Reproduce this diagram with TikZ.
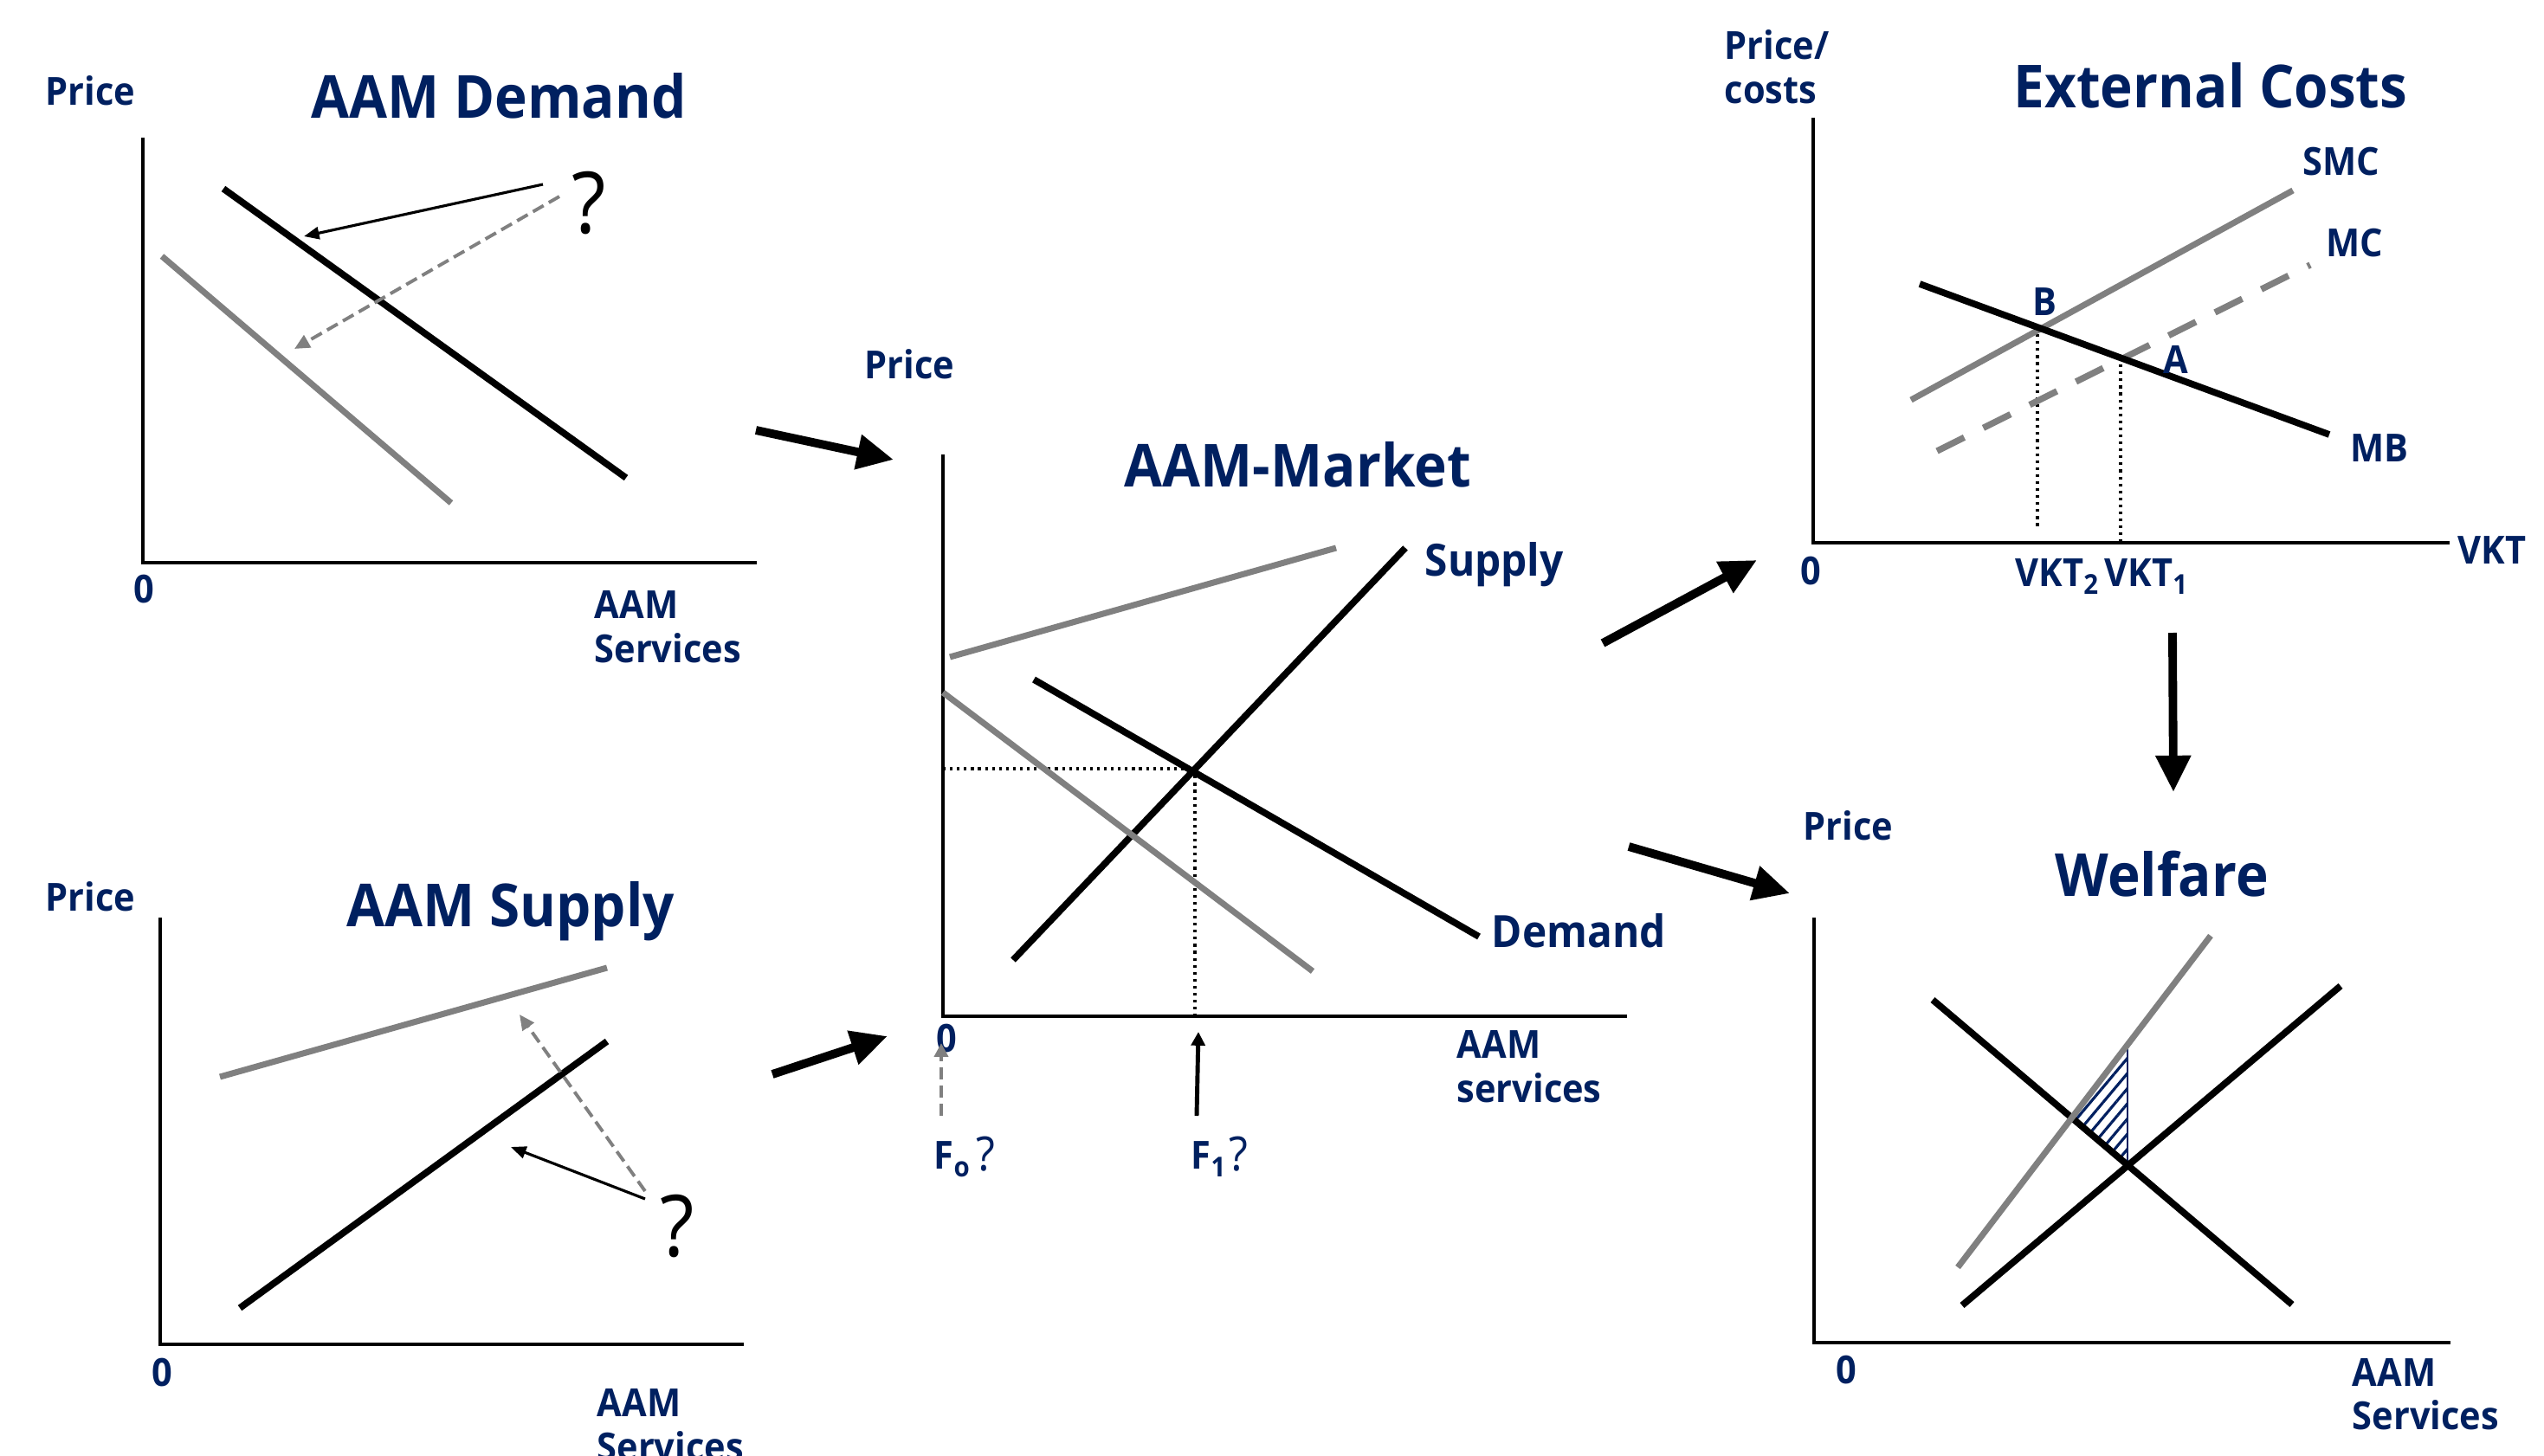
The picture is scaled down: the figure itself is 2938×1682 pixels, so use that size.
\documentclass[tikz,border=0pt]{standalone}
\usepackage{fontspec}
\setmainfont{Open Sans}[FakeStretch=0.93]
\usetikzlibrary{arrows.meta,patterns.meta}
\definecolor{navy}{HTML}{002060}
\definecolor{curvegray}{HTML}{808080}
\newcommand{\lsub}[1]{\raisebox{-2.8pt}{\fontsize{9}{9}\selectfont #1}}
\tikzset{
  lab/.style={font=\fontsize{12.7}{15}\selectfont\bfseries, text=navy, inner sep=0pt, anchor=base west},
  biglab/.style={lab, font=\fontsize{14.6}{17}\selectfont\bfseries},
  ttl/.style={font=\fontsize{19.5}{23}\selectfont\bfseries, text=navy, inner sep=0pt, anchor=base west},
  bigq/.style={font=\fontsize{28}{30}\selectfont, text=black, inner sep=0pt, anchor=base west},
  smallq/.style={font=\fontsize{15.5}{17}\selectfont, text=navy, inner sep=0pt, anchor=base west},
  axis/.style={line width=1.3pt, line join=miter},
  blk/.style={line width=2.2pt},
  gry/.style={line width=2pt, draw=curvegray},
  bigarrow/.style={line width=2.8pt, -{Triangle[length=12pt,width=11pt]}},
  thinarrow/.style={line width=0.9pt, -{Triangle[length=5pt,width=4pt]}},
  dasharrow/.style={line width=1.1pt, draw=curvegray, dash pattern=on 4pt off 2pt,
    -{Triangle[length=5pt,width=4.5pt,fill=curvegray]}},
  dots/.style={line width=0.9pt, dash pattern=on 0.9pt off 1.4pt},
}
\begin{document}
\begin{tikzpicture}[x=0.01cm,y=-0.01cm]
\fill[white] (0,0) rectangle (2938,1682);
\useasboundingbox (0,0) rectangle (2938,1682);

% ---------------- AAM Demand ----------------
\node[lab] (d-price) at (52,122) {Price};
\node[ttl] (d-title) at (359,137) {AAM Demand};
\draw[axis] (165,159) -- (165,650) -- (874,650);
\draw[blk] (258,218) -- (723,552);
\draw[gry] (187,296) -- (521,581);
\node[bigq] (d-q) at (660,270) {?};
\coordinate (d-q1) at (627,213);
\coordinate (d-q2) at (646,227);
\coordinate (d-t1) at (351,273);
\coordinate (d-t2) at (340,403);
\draw[thinarrow] (d-q1) -- (d-t1);
\draw[dasharrow] (d-q2) -- (d-t2);
\node[lab] (d-zero) at (154,696) {0};
\node[lab] (d-x1) at (686,714) {AAM};
\node[lab] (d-x2) at (686,765) {Services};

% ---------------- AAM Supply ----------------
\node[lab] (s-price) at (52,1052) {Price};
\node[ttl] (s-title) at (400,1070) {AAM Supply};
\draw[axis] (185,1060) -- (185,1553) -- (859,1553);
\draw[gry] (254,1244) -- (701,1118);
\draw[blk] (277,1511) -- (701,1203);
\node[bigq] (s-q) at (762,1451) {?};
\coordinate (s-q1) at (745,1385);
\coordinate (s-q2) at (745,1376);
\coordinate (s-t1) at (590,1325);
\coordinate (s-t2) at (600,1172);
\draw[thinarrow] (s-q1) -- (s-t1);
\draw[dasharrow] (s-q2) -- (s-t2);
\node[lab] (s-zero) at (175,1601) {0};
\node[lab] (s-x1) at (689,1636) {AAM};
\node[lab] (s-x2) at (689,1687) {Services};

% ---------------- AAM-Market ----------------
\node[lab] (m-price) at (998,437) {Price};
\node[ttl] (m-title) at (1298,562) {AAM-Market};
\draw[axis] (1089,525) -- (1089,1174) -- (1879,1174);
\draw[dots] (1089,888) -- (1380,888) -- (1380,1174);
\draw[gry] (1097,759) -- (1543,633);
\draw[blk] (1170,1109) -- (1623,633);
\draw[blk] (1194,785) -- (1708,1082);
\draw[gry] (1089,800) -- (1516,1122);
\node[biglab] (m-supply) at (1645,665) {Supply};
\node[biglab] (m-demand) at (1722,1094) {Demand};
\node[lab] (m-zero) at (1081,1215) {0};
\node[lab] (m-x1) at (1682,1222) {AAM};
\node[lab] (m-x2) at (1682,1273) {services};
\node[lab] (m-f0) at (1078,1350) {F\lsub{o}};
\node[smallq] (m-f0q) at (1127,1352) {?};
\node[lab] (m-f1) at (1375,1350) {F\lsub{1}};
\node[smallq] (m-f1q) at (1419,1352) {?};
\coordinate (m-f0s) at (1087,1289);
\coordinate (m-f0t) at (1087,1205);
\coordinate (m-f1s) at (1382,1289);
\coordinate (m-f1t) at (1384,1192);
\draw[line width=1.1pt, draw=curvegray, dash pattern=on 4pt off 2pt,
  -{Triangle[length=4.5pt,width=4.5pt,fill=curvegray]}] (m-f0s) -- (m-f0t);
\draw[line width=1.4pt, -{Triangle[length=4.5pt,width=4.5pt]}] (m-f1s) -- (m-f1t);

% ---------------- External Costs ----------------
\node[lab] (e-price1) at (1991,69) {Price/};
\node[lab] (e-price2) at (1991,120) {costs};
\node[ttl] (e-title) at (2325,125) {External Costs};
\draw[axis] (2094,136) -- (2094,627) -- (2829,627);
\draw[dots] (2353,378) -- (2353,611);
\draw[dots] (2449,413) -- (2449,627);
\draw[gry] (2207,462) -- (2648,220);
\draw[gry, line width=2.1pt, dash pattern=on 10pt off 7pt] (2237,521) -- (2668,306);
\draw[blk] (2217,328) -- (2690,502);
\node[lab] (e-smc) at (2659,203) {SMC};
\node[lab] (e-mc) at (2686,297) {MC};
\node[lab] (e-mb) at (2714,533) {MB};
\node[lab] (e-b) at (2347,364) {B};
\node[lab] (e-a) at (2498,431) {A};
\node[lab] (e-vkt) at (2838,651) {VKT};
\node[lab] (e-zero) at (2079,675) {0};
\node[lab] (e-vkt2) at (2327,677) {VKT\lsub{2}};
\node[lab] (e-vkt1) at (2430,677) {VKT\lsub{1}};

% ---------------- Welfare ----------------
\node[lab] (w-price) at (2082,970) {Price};
\node[ttl] (w-title) at (2373,1035) {Welfare};
\draw[axis] (2095,1060) -- (2095,1551) -- (2830,1551);
\fill[pattern={Lines[angle=50,distance=3.2pt,line width=0.9pt]}, pattern color=navy]
  (2393,1291) -- (2457,1206) -- (2457,1346) -- cycle;
\draw[navy, line width=0.8pt] (2457,1206) -- (2457,1346);
\draw[blk] (2232,1155) -- (2647,1507);
\draw[blk] (2266,1508) -- (2703,1139);
\draw[gry] (2261,1464) -- (2553,1081);
\node[lab] (w-zero) at (2120,1598) {0};
\node[lab] (w-x1) at (2716,1601) {AAM};
\node[lab] (w-x2) at (2716,1651) {Services};

% ---------------- links between the panels ----------------
\coordinate (l1s) at (873,497);   \coordinate (l1t) at (1032,531);
\coordinate (l2s) at (892,1241);  \coordinate (l2t) at (1025,1197);
\coordinate (l3s) at (1851,743);  \coordinate (l3t) at (2029,647);
\coordinate (l4s) at (1881,978);  \coordinate (l4t) at (2067,1032);
\coordinate (l5s) at (2509,731);  \coordinate (l5t) at (2510,915);
\draw[bigarrow] (l1s) -- (l1t);
\draw[bigarrow] (l2s) -- (l2t);
\draw[bigarrow] (l3s) -- (l3t);
\draw[bigarrow] (l4s) -- (l4t);
\draw[bigarrow] (l5s) -- (l5t);
\end{tikzpicture}
\end{document}
